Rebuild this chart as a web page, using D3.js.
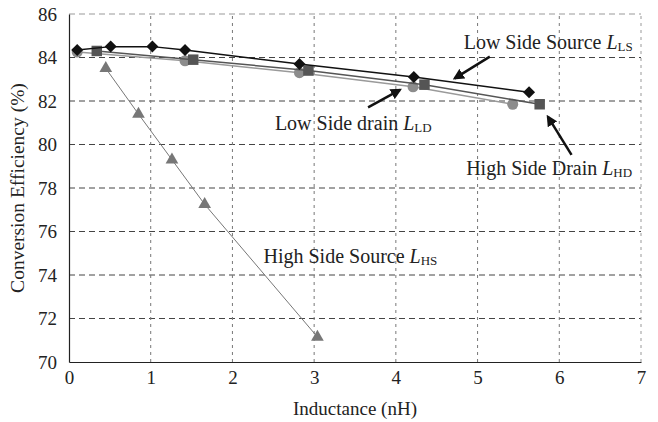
<!DOCTYPE html>
<html>
<head>
<meta charset="utf-8">
<script src="https://cdn.jsdelivr.net/npm/d3@7"></script>
<style>
  body { margin: 0; background: #fff; }
  svg text, svg tspan { font-family: "Liberation Serif" !important; }
</style>
</head>
<body>
<script>
// DATA

const lsX = [0.1, 0.51, 1.02, 1.42, 2.82, 4.22, 5.63]
const lsY = [84.35, 84.5, 84.5, 84.35, 83.7, 83.1, 82.4]

const hdX = [0.34, 1.52, 2.93, 4.35, 5.76]
const hdY = [84.3, 83.9, 83.4, 82.75, 81.85]

const ldX = [0.1, 1.42, 2.82, 4.21, 5.43]
const ldY = [84.25, 83.85, 83.3, 82.65, 81.85]

const hsX = [0.45, 0.85, 1.26, 1.66, 3.04]
const hsY = [83.5, 81.4, 79.3, 77.25, 71.15]

const xTicks = [0, 1, 2, 3, 4, 5, 6, 7]
const yTicks = [70, 72, 74, 76, 78, 80, 82, 84, 86]

// labels: [text, subscript, x, y] in data units
const labels = [
  ["Low Side Source ", "LS", 4.83, 84.38],
  ["Low Side drain ", "LD", 2.52, 80.67],
  ["High Side Drain ", "HD", 4.86, 78.6],
  ["High Side Source ", "HS", 2.38, 74.54]
]
// arrows: [x1, y1, x2, y2] in data units
const arrows = [
  [5.15, 84.04, 4.72, 83.04],
  [3.66, 81.71, 4.05, 82.51],
  [6.15, 79.52, 5.86, 81.28]
]

// VARIABLES

const width = 658, height = 422,
      margin = {top: 14, bottom: 60, left: 69, right: 17},
      fam = "Liberation Serif"

// SCALES

const xScale = d3.scaleLinear()
    .domain([0, 7])
    .range([margin.left, width - margin.right])

const yScale = d3.scaleLinear()
    .domain([70, 86])
    .range([height - margin.bottom, margin.top])

// ELEMENTS

const svg = d3.select("body")
    .append("svg")
    .attr("width", width)
    .attr("height", height)
    .attr("font-family", fam)

svg.append("defs").append("marker")
    .attr("id", "head")
    .attr("viewBox", "0 0 10 10")
    .attr("refX", 8).attr("refY", 5)
    .attr("markerWidth", 4.5).attr("markerHeight", 4.5)
    .attr("markerUnits", "strokeWidth")
    .attr("orient", "auto")
  .append("path")
    .attr("d", "M0,0 L10,5 L0,10 z")
    .attr("fill", "#111")

// grid
svg.append("g")
  .selectAll("line")
  .data(yTicks.slice(1))
  .join("line")
    .attr("x1", xScale(0)).attr("x2", xScale(7))
    .attr("y1", d => yScale(d)).attr("y2", d => yScale(d))
    .attr("stroke", d => d === 86 ? "#999" : "#444")
    .attr("stroke-width", 1)
    .attr("stroke-dasharray", "6,4")

svg.append("g")
  .selectAll("line")
  .data(xTicks.slice(1))
  .join("line")
    .attr("x1", d => xScale(d)).attr("x2", d => xScale(d))
    .attr("y1", yScale(70)).attr("y2", yScale(86))
    .attr("stroke", d => d === 7 ? "#999" : "#777")
    .attr("stroke-width", 1)
    .attr("stroke-dasharray", "3,4")

// axes
const xAxis = d3.axisBottom(xScale).tickValues(xTicks).tickFormat(d3.format("d"))
    .tickSize(0).tickPadding(9)
const yAxis = d3.axisLeft(yScale).tickValues(yTicks).tickFormat(d3.format("d"))
    .tickSize(0).tickPadding(12)

const gx = svg.append("g")
    .attr("transform", `translate(0,${yScale(70)})`)
    .call(xAxis)
    .attr("font-family", fam)
gx.select(".domain").attr("stroke", "#222").attr("stroke-width", 1.2)
gx.selectAll("text").attr("font-size", 19).attr("fill", "#222")
    .attr("font-family", fam)
    .style("font-family", d => `"${fam}"`)

const gy = svg.append("g")
    .attr("transform", `translate(${xScale(0)},0)`)
    .call(yAxis)
    .attr("font-family", fam)
gy.select(".domain").attr("stroke", "#222").attr("stroke-width", 1.2)
gy.selectAll("text").attr("font-size", 19).attr("fill", "#222")
    .attr("font-family", fam)
    .style("font-family", d => `"${fam}"`)

svg.append("text")
    .attr("x", (xScale(0) + xScale(7)) / 2)
    .attr("y", 415)
    .attr("text-anchor", "middle")
    .attr("font-size", 19)
    .attr("fill", "#222")
    .attr("font-family", fam)
    .style("font-family", `"${fam}"`)
    .text("Inductance (nH)")

svg.append("text")
    .attr("transform", `translate(24,${(yScale(70) + yScale(86)) / 2}) rotate(-90)`)
    .attr("text-anchor", "middle")
    .attr("font-size", 19.5)
    .attr("fill", "#222")
    .attr("font-family", fam)
    .style("font-family", `"${fam}"`)
    .text("Conversion Efficiency (%)")

// SERIES

const line = d3.line().x(d => xScale(d[0])).y(d => yScale(d[1]))

const series = [
  {x: hsX, y: hsY, stroke: "#777", sw: 1, fill: "#777", sym: d3.symbolTriangle, size: 70, rot: 0},
  {x: ldX, y: ldY, stroke: "#9a9a9a", sw: 1.5, fill: "#8c8c8c", sym: d3.symbolCircle, size: 95, rot: 0},
  {x: hdX, y: hdY, stroke: "#555", sw: 1.5, fill: "#555", sym: d3.symbolSquare, size: 110, rot: 0},
  {x: lsX, y: lsY, stroke: "#111", sw: 1.5, fill: "#111", sym: d3.symbolSquare, size: 72, rot: 45}
]

series.forEach(s => {
  const pts = s.x.map((v, i) => [v, s.y[i]])
  svg.append("path")
      .datum(pts)
      .attr("d", line)
      .attr("fill", "none")
      .attr("stroke", s.stroke)
      .attr("stroke-width", s.sw)
  svg.append("g")
    .selectAll("path")
    .data(pts)
    .join("path")
      .attr("transform", d => `translate(${xScale(d[0])},${yScale(d[1])}) rotate(${s.rot})`)
      .attr("d", d3.symbol().type(s.sym).size(s.size))
      .attr("fill", s.fill)
})

// ANNOTATIONS

svg.append("g")
  .selectAll("line")
  .data(arrows)
  .join("line")
    .attr("x1", d => xScale(d[0])).attr("y1", d => yScale(d[1]))
    .attr("x2", d => xScale(d[2])).attr("y2", d => yScale(d[3]))
    .attr("stroke", "#111")
    .attr("stroke-width", 2.5)
    .attr("marker-end", "url(#head)")

labels.forEach(l => {
  const t = svg.append("text")
      .attr("x", xScale(l[2]))
      .attr("y", yScale(l[3]))
      .attr("font-size", 20)
      .attr("fill", "#222")
      .attr("font-family", fam)
      .style("font-family", `"${fam}"`)
  t.append("tspan").text(l[0])
  t.append("tspan").attr("font-style", "italic").text("L")
  t.append("tspan").attr("font-size", 13).attr("dy", 2).text(l[1])
})
</script>
</body>
</html>
